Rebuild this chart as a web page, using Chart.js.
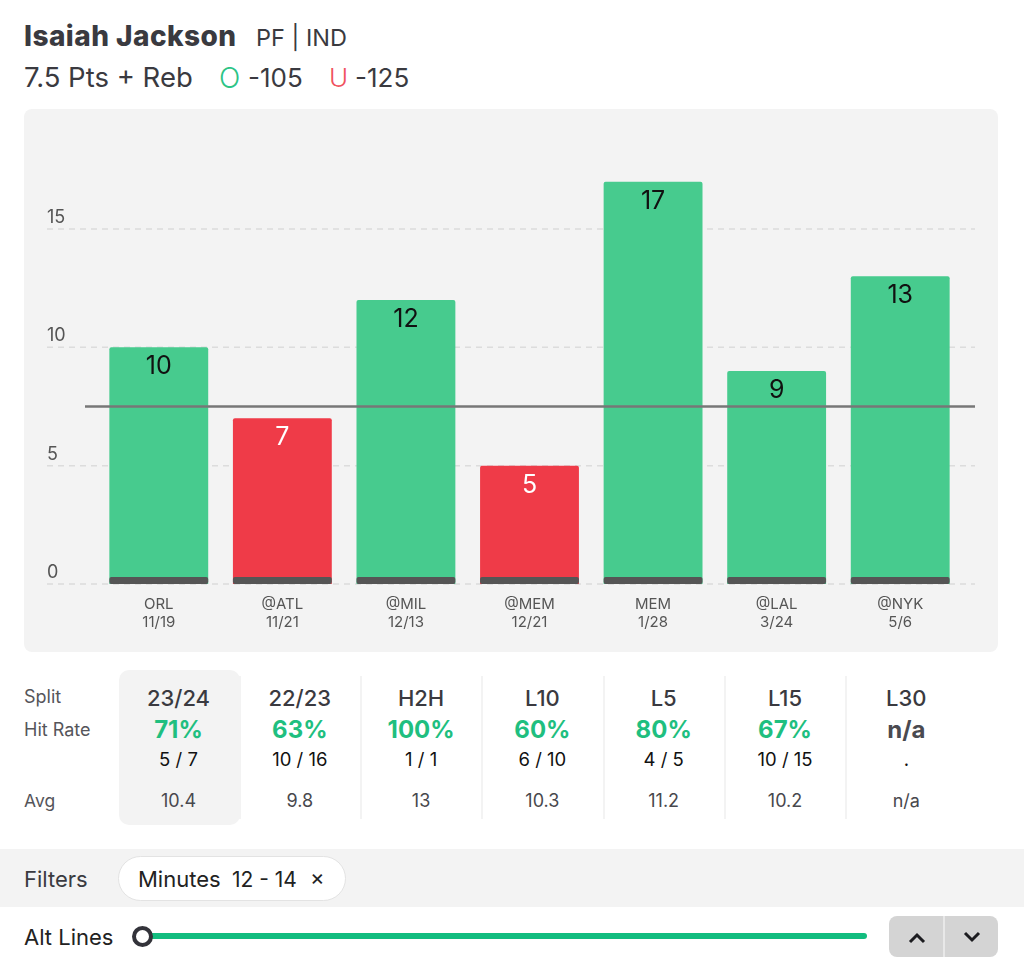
<!DOCTYPE html>
<html>
<head>
<meta charset="utf-8">
<script src="https://cdn.jsdelivr.net/npm/chart.js@4"></script>
<style>
  html, body { margin: 0; padding: 0; background: #fff; }
  body { width: 1024px; height: 964px; position: relative; overflow: hidden; font-family: Inter, sans-serif; color: #3a3a40; }
  .t { position: absolute; white-space: nowrap; line-height: 1; }
  .c { transform: translateX(-50%); }
  #panel { position: absolute; left: 24px; top: 109px; width: 974px; height: 543px; background: #f3f3f3; border-radius: 8px; }
  #chart { display: block; }
  #selected { position: absolute; left: 119px; top: 670px; width: 121px; height: 155px; background: #f3f3f3; border-radius: 10px; }
  .sep { position: absolute; top: 676px; width: 2px; height: 143px; background: #f3f3f3; }
  #filterBand { position: absolute; left: 0; top: 849px; width: 1024px; height: 58px; background: #f3f3f3; }
  #chip { position: absolute; left: 118px; top: 856px; width: 226px; height: 43px; background: #fff; border: 1px solid #e3e3e3; border-radius: 23px; }
  #track { position: absolute; left: 148px; top: 933px; width: 719px; height: 6px; background: #12bd7f; border-radius: 3px; }
  #knob { position: absolute; left: 132px; top: 926px; width: 13px; height: 13px; border: 4px solid #33333a; border-radius: 50%; background: #fff; }
  #stepper { position: absolute; left: 889px; top: 916px; width: 109px; height: 41px; background: #d4d4d4; border-radius: 8px; }
  #stepperGap { position: absolute; left: 943px; top: 916px; width: 2px; height: 41px; background: #e8e8e8; }
  svg { position: absolute; }
</style>
</head>
<body>
<div id="panel"><canvas id="chart" width="974" height="543"></canvas></div>
<div id="selected"></div>
<div id="filterBand"></div>
<div id="chip"></div>
<div id="track"></div>
<div id="knob"></div>
<div id="stepper"></div>
<div id="stepperGap"></div>
<svg style="left:904px;top:930px" width="26" height="16" viewBox="0 0 26 16"><path d="M6 12 L13 5 L20 12" fill="none" stroke="#1c1c20" stroke-width="3"/></svg>
<svg style="left:959px;top:929px" width="26" height="16" viewBox="0 0 26 16"><path d="M6 4 L13 11 L20 4" fill="none" stroke="#1c1c20" stroke-width="3"/></svg>
<script>
const opponents = ['ORL', '@ATL', '@MIL', '@MEM', 'MEM', '@LAL', '@NYK'];
const gameDates = ['11/19', '11/21', '12/13', '12/21', '1/28', '3/24', '5/6'];
const gameValues = [10, 7, 12, 5, 17, 9, 13];
const baseBand = [0.3, 0.3, 0.3, 0.3, 0.3, 0.3, 0.3];
const propLine = 7.5;

const splitNames = ['23/24', '22/23', 'H2H', 'L10', 'L5', 'L15', 'L30'];
const hitRates = ['71%', '63%', '100%', '60%', '80%', '67%', 'n/a'];
const hitCounts = ['5 / 7', '10 / 16', '1 / 1', '6 / 10', '4 / 5', '10 / 15', '.'];
const averages = ['10.4', '9.8', '13', '10.3', '11.2', '10.2', 'n/a'];

const GREEN = '#47cb8e';
const RED = '#ef3b48';

function addText(text, x, y, size, weight, color, centered) {
  const el = document.createElement('div');
  el.className = centered ? 't c' : 't';
  el.textContent = text;
  el.style.left = x + 'px';
  el.style.top = (y - size / 2) + 'px';
  el.style.fontSize = size + 'px';
  el.style.fontWeight = weight;
  el.style.color = color;
  document.body.appendChild(el);
  return el;
}

addText('Isaiah Jackson', 24, 36, 28, 800, '#3a3a40').style.letterSpacing = '0.45px';
addText('PF | IND', 256, 38, 23.5, 400, '#3a3a40');
addText('7.5 Pts + Reb', 24, 78, 27.5, 400, '#3a3a40');
addText('O', 219, 78, 28, 300, '#2cc486');
addText('-105', 248, 78, 26, 400, '#3a3a40');
addText('U', 329, 78, 26, 300, '#f0525e');
addText('-125', 355, 78, 26, 400, '#3a3a40');

addText('Split', 24, 697, 18, 400, '#55555a');
addText('Hit Rate', 24, 730, 18, 400, '#55555a');
addText('Avg', 24, 801, 17.5, 400, '#55555a');

splitNames.forEach((name, i) => {
  const x = 178.5 + i * 121.3;
  addText(name, x, 698, 22, 500, '#3a3a40', true);
  addText(hitRates[i], x, 730, 24, 700, hitRates[i] === 'n/a' ? '#4a4a50' : '#1fbf80', true);
  addText(hitCounts[i], x, 759, 18.5, 400, '#111', true);
  addText(averages[i], x, 801, 18, 400, '#48484d', true);
  if (i > 0 && i < 7) {
    const sep = document.createElement('div');
    sep.className = 'sep';
    sep.style.left = (x - 61) + 'px';
    document.body.appendChild(sep);
  }
});

addText('Filters', 24, 879, 22, 400, '#3a3a40');
addText('Minutes', 138, 879, 22, 400, '#222');
addText('12 - 14', 232, 879, 21, 400, '#222');
addText('×', 310, 877, 22, 400, '#222');
addText('Alt Lines', 24, 937, 22, 400, '#222');

// grid runs past the plot area on both sides, so it is drawn here from the y scale
const gridPlugin = {
  id: 'wideGrid',
  beforeDatasetsDraw(chart) {
    const { ctx, scales, chartArea } = chart;
    ctx.save();
    ctx.strokeStyle = '#dcdcdc';
    ctx.lineWidth = 1.5;
    ctx.setLineDash([6, 5]);
    scales.y.ticks.forEach(tick => {
      const y = scales.y.getPixelForValue(tick.value);
      ctx.beginPath();
      ctx.moveTo(23, y);
      ctx.lineTo(chartArea.right + 13, y);
      ctx.stroke();
    });
    ctx.restore();
  }
};

const overlayPlugin = {
  id: 'lineAndValues',
  afterDatasetsDraw(chart) {
    const { ctx, scales, chartArea } = chart;
    const bars = chart.getDatasetMeta(1).data;
    ctx.save();
    ctx.font = '400 25px Inter, sans-serif';
    ctx.textAlign = 'center';
    ctx.textBaseline = 'middle';
    bars.forEach((bar, i) => {
      ctx.fillStyle = gameValues[i] > propLine ? '#111' : '#fff';
      ctx.fillText(gameValues[i], bar.x, bar.y + 19.5);
    });
    const lineY = scales.y.getPixelForValue(propLine);
    ctx.strokeStyle = '#777';
    ctx.lineWidth = 2.5;
    ctx.beginPath();
    ctx.moveTo(chartArea.left - 12, lineY);
    ctx.lineTo(chartArea.right + 13, lineY);
    ctx.stroke();
    ctx.restore();
  }
};

new Chart(document.getElementById('chart').getContext('2d'), {
  type: 'bar',
  data: {
    labels: opponents.map((name, i) => [name, gameDates[i]]),
    datasets: [
      {
        label: 'Base',
        data: baseBand,
        backgroundColor: '#555555',
        grouped: false,
        borderRadius: 2,
        borderSkipped: false
      },
      {
        label: 'Pts + Reb',
        data: gameValues,
        backgroundColor: gameValues.map(v => v > propLine ? GREEN : RED),
        grouped: false,
        borderRadius: { topLeft: 2, topRight: 2 },
        borderSkipped: 'bottom'
      }
    ]
  },
  options: {
    responsive: false,
    animation: false,
    layout: { padding: { left: 23, right: 36, top: 25.3, bottom: 0 } },
    plugins: { legend: { display: false }, tooltip: { enabled: false } },
    datasets: { bar: { categoryPercentage: 1, barPercentage: 0.8 } },
    scales: {
      x: {
        grid: { display: false },
        border: { display: false },
        afterFit(scale) { scale.height = 68; },
        ticks: {
          color: '#555',
          font: { family: 'Inter, sans-serif', size: 15, lineHeight: 1.2 },
          maxRotation: 0,
          autoSkip: false,
          padding: 3
        }
      },
      y: {
        min: 0,
        max: 19,
        grid: { display: false },
        border: { display: false },
        afterFit(scale) { scale.width = 50; },
        ticks: {
          stepSize: 5,
          includeBounds: false,
          color: '#555',
          font: { family: 'Inter, sans-serif', size: 18 },
          crossAlign: 'far',
          align: 'end',
          labelOffset: -2.5,
          padding: 0
        }
      }
    }
  },
  plugins: [gridPlugin, overlayPlugin]
});
</script>
</body>
</html>
